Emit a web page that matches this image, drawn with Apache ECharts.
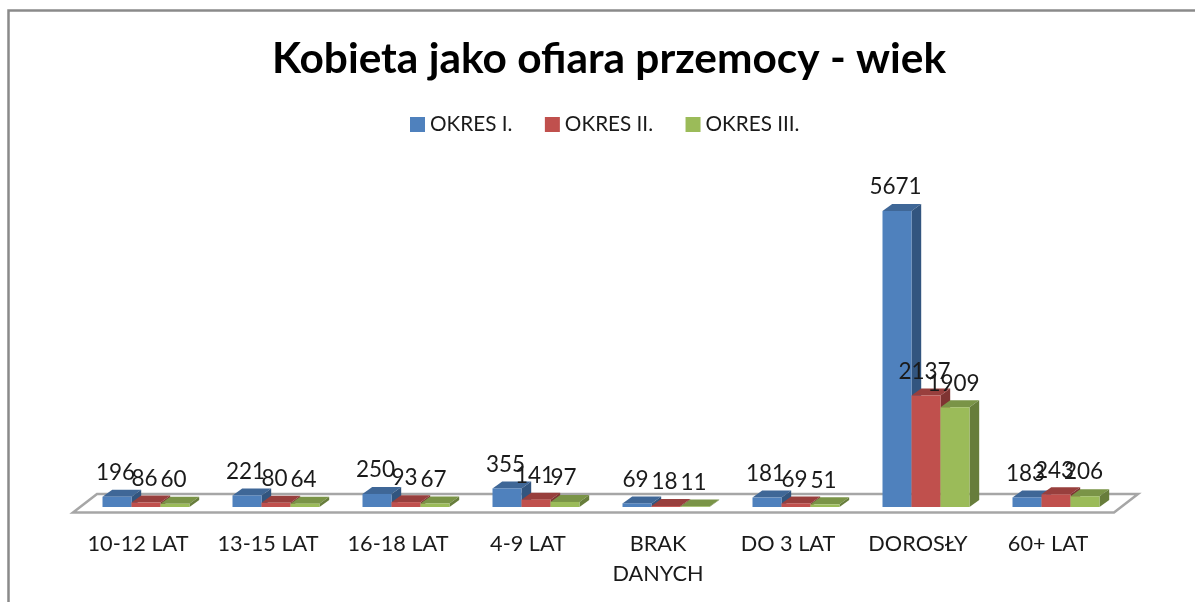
<!DOCTYPE html>
<html><head><meta charset="utf-8">
<style>html,body{margin:0;padding:0;background:#fff}#c{width:1195px;height:602px}</style>
<script src="https://cdn.jsdelivr.net/npm/echarts@6/dist/echarts.min.js"></script>
</head><body><div id="c"></div>
<script>
const categories = ['10-12 LAT','13-15 LAT','16-18 LAT','4-9 LAT','BRAK\nDANYCH','DO 3 LAT','DOROSŁY','60+ LAT'];
const okres1 = [196,221,250,355,69,181,5671,183];
const okres2 = [86,80,93,141,18,69,2137,243];
const okres3 = [60,64,67,97,11,51,1909,206];
const seriesNames = ['OKRES I.','OKRES II.','OKRES III.'];
const colors = [
 {front:'#4F81BD',top:'#3F6797',side:'#32557F'},
 {front:'#C0504D',top:'#983F3D',side:'#7F3432'},
 {front:'#9BBB59',top:'#7A9447',side:'#677D3B'}
];
const font = 'Lato, Carlito, "Open Sans", sans-serif';
const chart = echarts.init(document.getElementById('c'),null,{renderer:'canvas'});
const DX=9.7, DY=7, BARW=29, GROUP=87;
function barSeries(idx,data){
  const c=colors[idx];
  return {
    type:'custom',name:seriesNames[idx],coordinateSystem:'cartesian2d',
    itemStyle:{color:c.front},
    encode:{x:0,y:1},z:3+idx,
    data:data.map((v,i)=>[i,v]),
    renderItem(params,api){
      const p=api.coord([api.value(0),api.value(1)]);
      const b=api.coord([api.value(0),0]);
      const x0=p[0]-GROUP/2+idx*BARW,x1=x0+BARW,t=p[1],y=b[1];
      return {type:'group',children:[
        {type:'polygon',shape:{points:[[x0,t],[x1,t],[x1+DX,t-DY],[x0+DX,t-DY]]},style:{fill:c.top}},
        {type:'polygon',shape:{points:[[x1,t],[x1+DX,t-DY],[x1+DX,y-DY],[x1,y]]},style:{fill:c.side}},
        {type:'rect',shape:{x:x0,y:t,width:BARW,height:y-t},style:{fill:c.front}},
        {type:'text',z2:100,style:{x:(x0+x1)/2-1.5,y:t-24,text:String(api.value(1)),align:'center',verticalAlign:'middle',
          font:'22.5px '+font,fill:'#1a1a1a'}}
      ]};
    }
  };
}
const floorSeries={
  type:'custom',silent:true,z:1,legendHoverLink:false,coordinateSystem:'cartesian2d',
  data:[[0,0]],encode:{x:0,y:1},
  renderItem(params,api){
    const b=api.coord([0,0]);
    const gx=params.coordSys.x,gw=params.coordSys.width,y=b[1];
    return {type:'polygon',shape:{points:[[gx-8,y+5.5],[gx+gw-7,y+5.5],[gx+gw+17,y-13],[gx+16,y-13]]},
      style:{fill:'#fff',stroke:'#A6A6A6',lineWidth:2.5}};
  }
};
chart.setOption({
  animation:false,backgroundColor:'#fff',
  title:{text:'Kobieta jako ofiara przemocy - wiek',left:272,top:38,padding:0,
    textStyle:{fontFamily:font,fontSize:42.4,fontWeight:'bold',color:'#000'}},
  legend:{data:seriesNames,left:410,top:114,padding:0,itemWidth:15,itemHeight:15,itemGap:32.5,icon:'rect',
    textStyle:{fontFamily:font,fontSize:20.7,color:'#1a1a1a'},selectedMode:false},
  grid:{left:81,width:1040,top:193.7,height:313.3,containLabel:false},
  xAxis:{type:'category',data:categories,axisLine:{show:false},axisTick:{show:false},splitLine:{show:false},
    axisLabel:{interval:0,margin:22,fontFamily:font,fontSize:21.7,lineHeight:30,color:'#1a1a1a',padding:[0,16,0,0]}},
  yAxis:{type:'value',min:0,max:6000,show:false},
  series:[floorSeries,barSeries(0,okres1),barSeries(1,okres2),barSeries(2,okres3)],
  graphic:[{type:'polyline',shape:{points:[[8.5,602],[8.5,10.5],[1195,10.5]]},style:{stroke:'#8A8A8A',lineWidth:2.5,fill:null},silent:true}]
});
</script></body></html>
